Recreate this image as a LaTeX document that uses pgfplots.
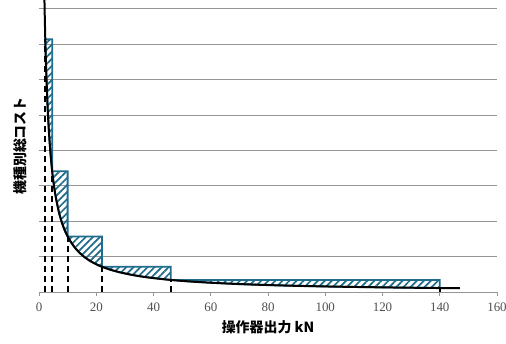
\documentclass[border=0pt]{standalone}
\usepackage{fontspec}
\setmainfont{Liberation Serif}
\newfontfamily\cjk{Noto Sans CJK JP}
\usepackage{pgfplots}
\pgfplotsset{compat=1.18}
\usetikzlibrary{patterns.meta}
\definecolor{barblue}{RGB}{31,108,140}
\definecolor{gridgray}{RGB}{150,150,150}
\definecolor{ticktext}{RGB}{80,80,80}
\begin{document}
\begin{tikzpicture}
\useasboundingbox (0,0) rectangle (506bp,344bp);
\begin{axis}[
  at={(39bp,52bp)}, anchor=south west,
  scale only axis, width=458bp, height=292bp,
  xmin=0, xmax=160, ymin=0, ymax=8.25,
  axis x line=bottom, axis y line=left,
  axis line style={-},
  x axis line style={gridgray, line width=0.8bp},
  y axis line style={draw=none},
  xtick={0,20,...,160},
  ytick={1,2,...,8},
  yticklabels={},
  ytick style={draw=none},
  x tick style={gridgray, line width=0.8bp},
  tick align=outside, major tick length=4bp,
  ymajorgrids, grid style={gridgray, line width=0.8bp},
  xticklabel style={font=\fontsize{13}{15}\selectfont, text=ticktext, yshift=-3bp},
  /pgf/number format/assume math mode=true,
  xlabel={\cjk\bfseries\fontsize{14}{16}\selectfont 操作器出力 kN},
  xlabel style={at={(axis cs:80,0)}, anchor=center, yshift=-35bp},
  ylabel={\cjk\bfseries\fontsize{14}{16}\selectfont 機種別総コスト},
  ylabel style={at={(rel axis cs:0,0.5)}, anchor=center, yshift=19bp},
  clip=true,
]
% hatched regions between step function and cost curve
\addplot[draw=barblue, line width=1.8bp, pattern={Lines[angle=45,distance=5bp,line width=1.7bp]}, pattern color=barblue]
  coordinates {(2.2,7.14)(4.6,7.14)(4.6,3.41)(4.0,3.93)(3.5,4.49)(3.0,5.23)(2.5,6.28)(2.2,7.14)} -- cycle;
\addplot[draw=barblue, line width=1.8bp, pattern={Lines[angle=45,distance=5bp,line width=1.7bp]}, pattern color=barblue]
  coordinates {(4.6,3.41)(10,3.41)(10,1.57)(9,1.74)(8,1.96)(7,2.24)(6,2.62)(5.5,2.85)(5,3.14)(4.6,3.41)} -- cycle;
\addplot[draw=barblue, line width=1.8bp, pattern={Lines[angle=45,distance=5bp,line width=1.7bp]}, pattern color=barblue]
  coordinates {(10,1.57)(22,1.57)(22,0.714)(20,0.785)(18,0.87)(16,0.98)(14,1.12)(13,1.21)(12,1.31)(11,1.43)(10,1.57)} -- cycle;
\addplot[draw=barblue, line width=1.8bp, pattern={Lines[angle=45,distance=5bp,line width=1.7bp]}, pattern color=barblue]
  coordinates {(22,0.714)(46,0.714)(46,0.341)(40,0.393)(36,0.436)(32,0.491)(28,0.561)(25,0.628)(22,0.714)} -- cycle;
\addplot[draw=barblue, line width=1.8bp, pattern={Lines[angle=45,distance=5bp,line width=1.7bp]}, pattern color=barblue]
  coordinates {(46,0.341)(140,0.341)(140,0.112)(130,0.121)(120,0.131)(110,0.143)(100,0.157)(90,0.174)(80,0.196)(70,0.224)(60,0.262)(52,0.302)(46,0.341)} -- cycle;
% dashed boundaries
\addplot[black, line width=2bp, dash pattern=on 6bp off 4bp] coordinates {(2.2,0)(2.2,7.14)};
\addplot[black, line width=2bp, dash pattern=on 6bp off 4bp] coordinates {(4.6,0)(4.6,3.41)};
\addplot[black, line width=2bp, dash pattern=on 6bp off 4bp] coordinates {(10,0)(10,1.57)};
\addplot[black, line width=2bp, dash pattern=on 6bp off 4bp] coordinates {(22,0)(22,0.714)};
\addplot[black, line width=2bp, dash pattern=on 6bp off 4bp] coordinates {(46,0)(46,0.341)};
\addplot[black, line width=2bp, dash pattern=on 6bp off 4bp] coordinates {(140,0)(140,0.112)};
% cost curve
\addplot[black, line width=2bp, smooth] coordinates {
(1.9,8.26)(2.0,7.85)(2.2,7.14)(2.5,6.28)(3.0,5.23)(3.5,4.49)(4.0,3.93)(4.6,3.41)
(5.0,3.14)(5.5,2.85)(6,2.62)(7,2.24)(8,1.96)(9,1.74)(10,1.57)(11,1.43)(12,1.31)
(13,1.21)(14,1.12)(16,0.98)(18,0.87)(20,0.785)(22,0.714)(25,0.628)(28,0.561)
(32,0.491)(36,0.436)(40,0.393)(46,0.341)(52,0.302)(60,0.262)(70,0.224)(80,0.196)
(90,0.174)(100,0.157)(110,0.143)(120,0.131)(130,0.121)(140,0.112)(147,0.107)};
\end{axis}
\end{tikzpicture}
\end{document}
